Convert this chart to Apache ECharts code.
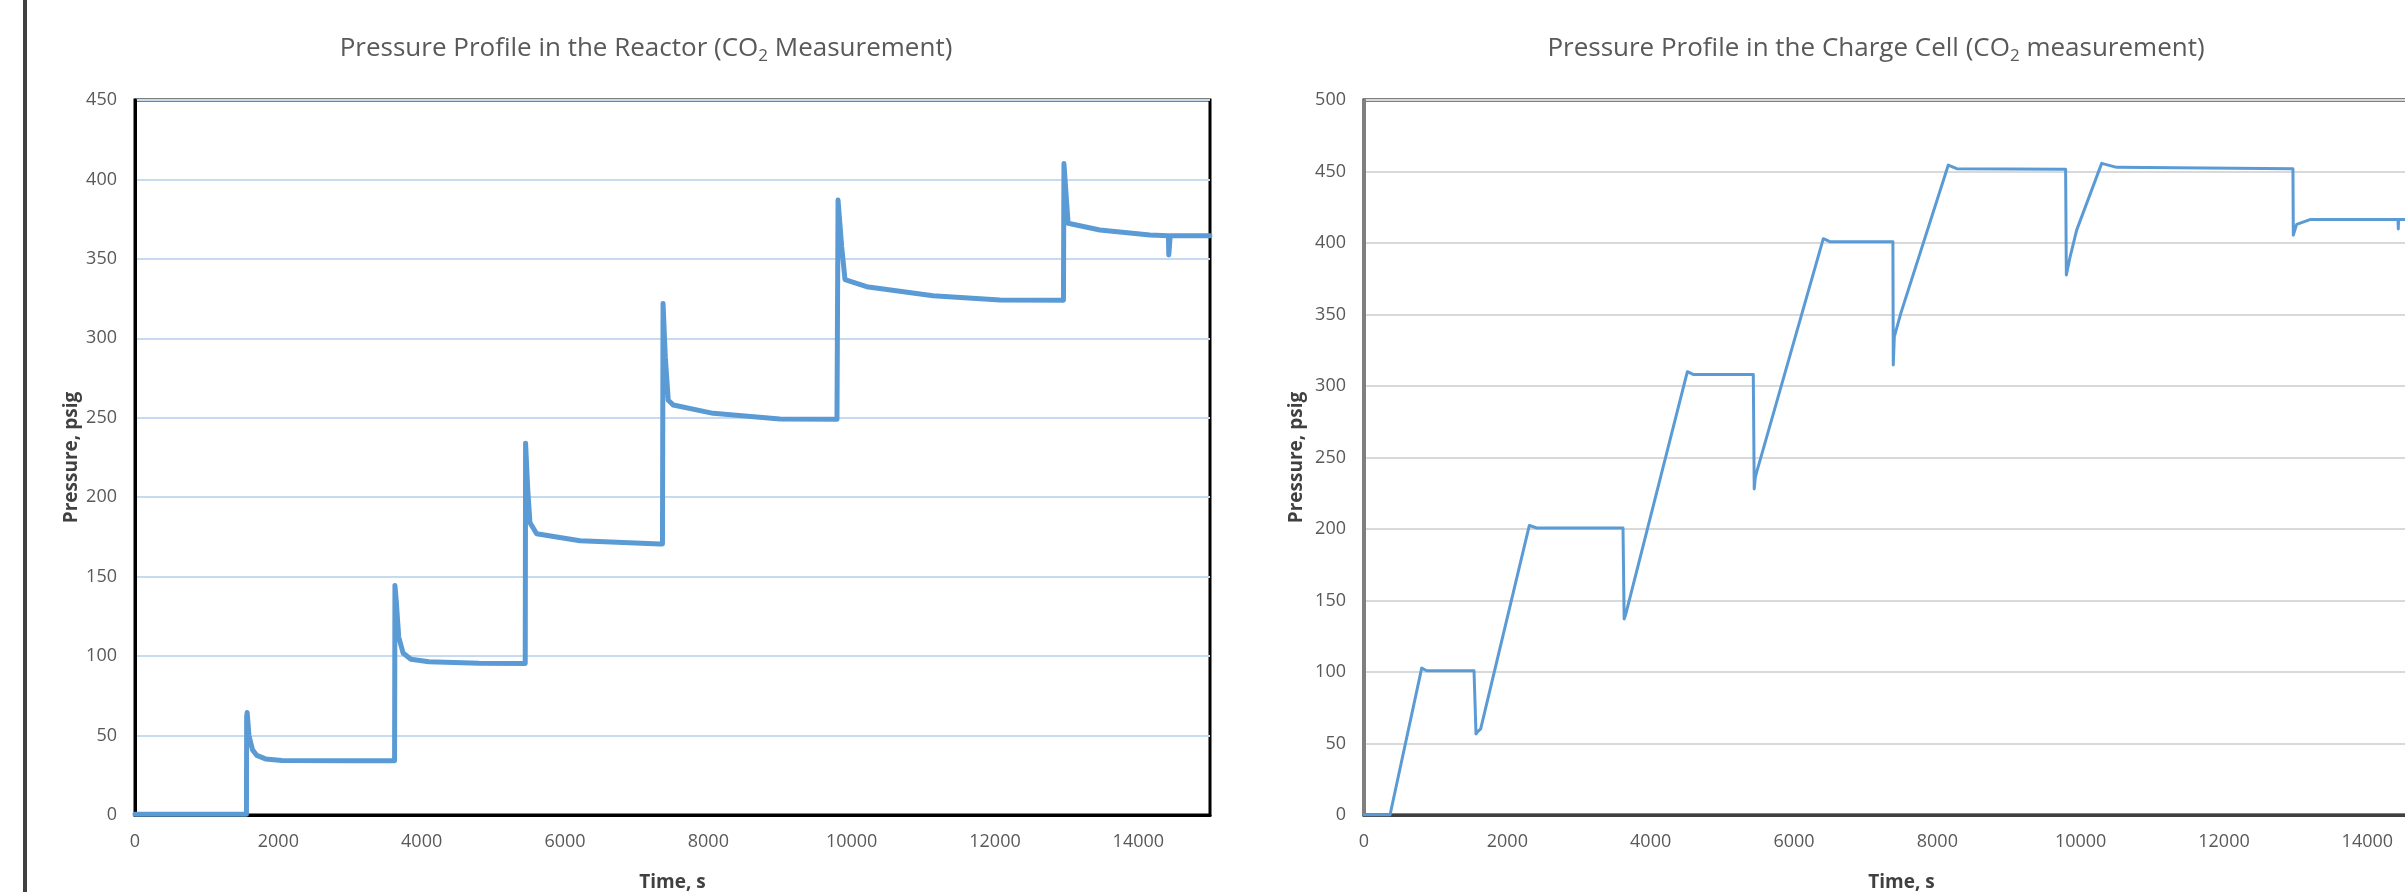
<!DOCTYPE html>
<html>
<head>
<meta charset="utf-8">
<script src="https://cdn.jsdelivr.net/npm/echarts@6/dist/echarts.min.js"></script>
<style>
  html, body { margin: 0; padding: 0; background: #fff; }
  #main { width: 2405px; height: 892px; }
</style>
</head>
<body>
<div id="main"></div>
<script>
// reactor pressure
let reactorTime = [0, 1555, 1558, 1565, 1590, 1640, 1700, 1820, 2050, 3000, 3622,
  3627, 3645, 3680, 3740, 3850, 4100, 4800, 5445,
  5450, 5480, 5511, 5604, 6209, 7325, 7360,
  7368, 7400, 7441, 7512, 8067, 8999, 9795,
  9810, 9860, 9907, 10209, 11135, 12070, 12955,
  12962, 13020, 13463, 14160, 14420, 14425, 14440, 14445, 15000];
let reactorPressure = [0.5, 0.5, 62, 64.5, 50, 41, 37.5, 35.3, 34.3, 34.2, 34.2,
  144.5, 135, 112, 102, 98, 96.5, 95.5, 95.3,
  234, 205, 184, 177, 172.6, 170.6, 170.6,
  322, 288, 261, 258, 252.8, 249.3, 249,
  387, 358, 337, 332.5, 326.8, 324.2, 324,
  410, 372.4, 368.2, 365, 364.5, 352.5, 352.5, 364.5, 364.6];

// charge cell pressure
let cellTime = [0, 363, 805, 875, 1535, 1563, 1580, 1628, 2307, 2410, 3614, 3630, 3650,
  4512, 4600, 5432, 5445, 5460, 5480, 6409, 6500, 7380, 7385, 7400, 7490,
  8153, 8270, 9790, 9800, 9851, 9944, 10293, 10502, 12962, 12967, 13014, 13200,
  14428, 14432, 14436, 15000];
let cellPressure = [0, 0, 102.7, 100.9, 100.9, 56.6, 58, 60.2, 202.5, 200.7, 200.7, 137, 140,
  310, 308, 308, 228, 236, 240, 403, 400.9, 400.9, 314.7, 334.5, 350.8,
  454.5, 452, 451.5, 377.6, 390, 409, 455.7, 452.9, 452, 405.5, 413, 416.4,
  416.4, 409.8, 416.4, 416.4];

let titles = ['Pressure Profile in the Reactor (CO{sub|2} Measurement)',
  'Pressure Profile in the Charge Cell (CO{sub|2} measurement)'];
let xTicks = [0, 15000, 2000];
let yRanges = [[0, 450, 50], [0, 500, 50]];

let zip = (a, b) => a.map((t, i) => [t, b[i]]);

let font = "'Open Sans', sans-serif";
let grey = '#595959';

let titleStyle = {
  color: grey, fontSize: 26, fontFamily: font, fontWeight: 'normal',
  rich: { sub: { fontSize: 17, color: grey, fontFamily: font, padding: [15, 0, 0, 0] } }
};

let makeX = function (gi, lineColor) {
  return {
    gridIndex: gi, type: 'value', min: xTicks[0], max: xTicks[1], interval: xTicks[2],
    name: 'Time, s', nameLocation: 'middle', nameGap: 58, nameMoveOverlap: false,
    nameTextStyle: { color: '#404040', fontSize: 19, fontWeight: 'bold', fontFamily: font },
    axisLine: { show: true, onZero: false, lineStyle: { color: lineColor, width: 3 } },
    axisTick: { show: false },
    splitLine: { show: false },
    axisLabel: { color: grey, fontSize: 18, fontFamily: font, margin: 18,
      formatter: v => (v > 14000 ? '' : String(v)) }
  };
};
let makeY = function (gi, range, splitColor, lineColor, gap) {
  return {
    gridIndex: gi, type: 'value', min: range[0], max: range[1], interval: range[2],
    name: 'Pressure, psig', nameLocation: 'middle', nameGap: gap, nameMoveOverlap: false,
    nameTextStyle: { color: '#404040', fontSize: 19, fontWeight: 'bold', fontFamily: font },
    axisLine: { show: true, lineStyle: { color: lineColor, width: 3 } },
    axisTick: { show: false },
    splitLine: { show: true, lineStyle: { color: splitColor, width: 2 } },
    axisLabel: { color: grey, fontSize: 18, fontFamily: font, margin: 18 }
  };
};

let option = {
  backgroundColor: '#fff',
  animation: false,
  title: [
    { text: titles[0], left: 641, top: 28, textAlign: 'center', textStyle: titleStyle },
    { text: titles[1], left: 1871, top: 28, textAlign: 'center', textStyle: titleStyle }
  ],
  grid: [
    { left: 135, top: 100, width: 1075, height: 715, show: true, borderColor: '#000', borderWidth: 3,
      outerBoundsMode: 'none' },
    { left: 1364, top: 100, width: 1075, height: 715, show: true, borderColor: '#000', borderWidth: 3,
      outerBoundsMode: 'none' }
  ],
  xAxis: [makeX(0, '#000'), makeX(1, '#404040')],
  yAxis: [makeY(0, yRanges[0], '#c6dbf0', '#000', 54), makeY(1, yRanges[1], '#d9d9d9', '#7f7f7f', 58)],
  graphic: [
    { type: 'rect', shape: { x: 23, y: 0, width: 4, height: 892 }, style: { fill: '#404040' } }
  ],
  series: [
    {
      name: 'Reactor', type: 'line', xAxisIndex: 0, yAxisIndex: 0, showSymbol: false,
      lineStyle: { color: '#5b9bd5', width: 5, cap: 'round', join: 'round' },
      data: zip(reactorTime, reactorPressure)
    },
    {
      name: 'Charge Cell', type: 'line', xAxisIndex: 1, yAxisIndex: 1, showSymbol: false,
      lineStyle: { color: '#5b9bd5', width: 3, cap: 'round', join: 'round' },
      data: zip(cellTime, cellPressure)
    }
  ]
};
let myChart = echarts.init(document.getElementById('main'));
myChart.setOption(option);
</script>
</body>
</html>
